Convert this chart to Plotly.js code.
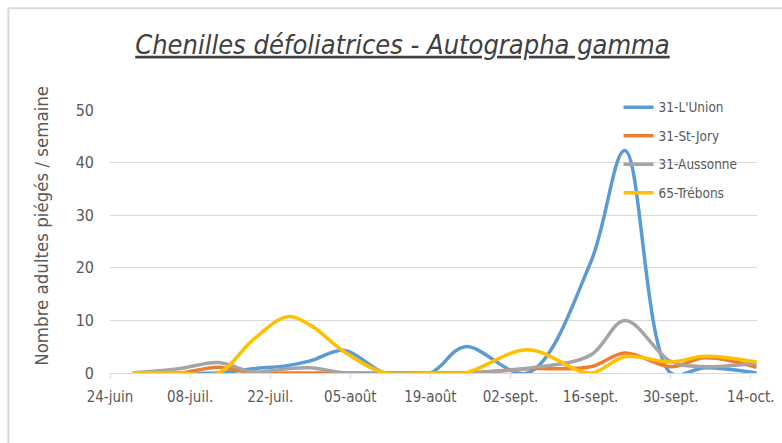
<!DOCTYPE html>
<html>
<head>
<meta charset="utf-8">
<script src="https://cdn.plot.ly/plotly-3.0.1.min.js"></script>
<style>
html,body{margin:0;padding:0;background:#fff;}
#chart{width:782px;height:443px;}
</style>
</head>
<body>
<div id="chart"></div>
<script>
// Data
const dates = ["2019-06-28","2019-07-06","2019-07-13","2019-07-19","2019-07-25","2019-07-29",
               "2019-08-04","2019-08-11","2019-08-19","2019-08-25","2019-09-05","2019-09-16",
               "2019-09-22","2019-09-30","2019-10-06","2019-10-15"];
const lunion   = [0, 0, 0, 0.8, 1.4, 2.3, 4.3, 0, 0, 5, 0, 21, 42.3, 0, 1, 0];
const stjory   = [0, 0, 1.1, 0, 0, 0, 0, 0, 0, 0, 0.8, 1.2, 3.8, 1.2, 2.9, 1.1];
const aussonne = [0, 0.8, 2, 0.2, 0.8, 1, 0, 0, 0, 0, 0.9, 3.4, 10, 2.2, 1.2, 1.9];
const trebons  = [0, 0, 0, 6.3, 10.7, 9.1, 4, 0, 0, 0, 4.4, 0, 3.1, 2.1, 3.2, 2.1];
const seriesNames = ["31-L'Union", "31-St-Jory", "31-Aussonne", "65-Trébons"];
const tickDates = ["2019-06-24","2019-07-08","2019-07-22","2019-08-05","2019-08-19",
                   "2019-09-02","2019-09-16","2019-09-30","2019-10-14"];
const tickLabels = ["24-juin","08-juil.","22-juil.","05-août","19-août",
                    "02-sept.","16-sept.","30-sept.","14-oct."];
const yTicks = [0, 10, 20, 30, 40, 50];

const colors = ["#5B9BD5", "#ED7D31", "#A5A5A5", "#FFC000"];
const vals = [lunion, stjory, aussonne, trebons];
const FONT = "'Liberation Sans Narrow', 'DejaVu Sans Condensed', 'Liberation Sans', sans-serif";

const traces = vals.map((v, i) => ({
  type: 'scatter', mode: 'lines', x: dates, y: v, name: seriesNames[i],
  legendgroup: 'g' + i,
  line: {color: colors[i], width: 3.5, shape: 'spline', smoothing: 1},
  hoverinfo: 'x+y+name'
}));

const layout = {
  width: 782, height: 443,
  margin: {l: 110, r: 25, t: 110, b: 70},
  paper_bgcolor: '#fff', plot_bgcolor: '#fff',
  showlegend: true,
  title: {
    text: '<i><u>Chenilles défoliatrices - Autographa gamma</u></i>',
    font: {family: FONT, size: 27, color: '#404040'},
    x: 0.452, xref: 'paper', xanchor: 'center',
    y: 0.9, yref: 'container', yanchor: 'middle'
  },
  xaxis: {
    type: 'date',
    range: ['2019-06-24', '2019-10-15 02:00'],
    tickvals: tickDates, ticktext: tickLabels,
    showgrid: false, zeroline: false,
    showline: true, linecolor: '#D9D9D9', linewidth: 1,
    ticks: 'outside', ticklen: 5, tickcolor: '#D9D9D9', tickwidth: 1,
    tickfont: {family: FONT, size: 15, color: '#595959'},
    ticklabelstandoff: 5,
    fixedrange: true
  },
  yaxis: {
    range: [0, 50],
    tickvals: yTicks,
    showgrid: true, gridcolor: '#D9D9D9', gridwidth: 1,
    zeroline: false, showline: false, ticks: '',
    tickfont: {family: FONT, size: 16, color: '#595959'},
    ticklabelstandoff: 15,
    fixedrange: true
  },
  legend: {
    x: 0.786, y: 1.069, xanchor: 'left', yanchor: 'top',
    bgcolor: 'rgba(0,0,0,0)',
    font: {family: FONT, size: 13.5, color: '#595959'},
    traceorder: 'grouped', tracegroupgap: 8,
    itemwidth: 30
  },
  annotations: [{
    text: 'Nombre adultes piégés / semaine',
    xref: 'paper', yref: 'paper',
    x: -0.105, y: 0.56, xanchor: 'center', yanchor: 'middle',
    textangle: -90, showarrow: false,
    font: {family: FONT, size: 18.5, color: '#595959'}
  }],
  shapes: [
    {type: 'line', xref: 'paper', yref: 'paper', x0: -0.157, x1: -0.157, y0: -0.3, y1: 1.387,
     line: {color: '#D9D9D9', width: 2}},
    {type: 'line', xref: 'paper', yref: 'paper', x0: -0.157, x1: 1.1, y0: 1.387, y1: 1.387,
     line: {color: '#D9D9D9', width: 2}}
  ]
};

Plotly.newPlot('chart', traces, layout, {displayModeBar: false, staticPlot: true});
</script>
</body>
</html>
